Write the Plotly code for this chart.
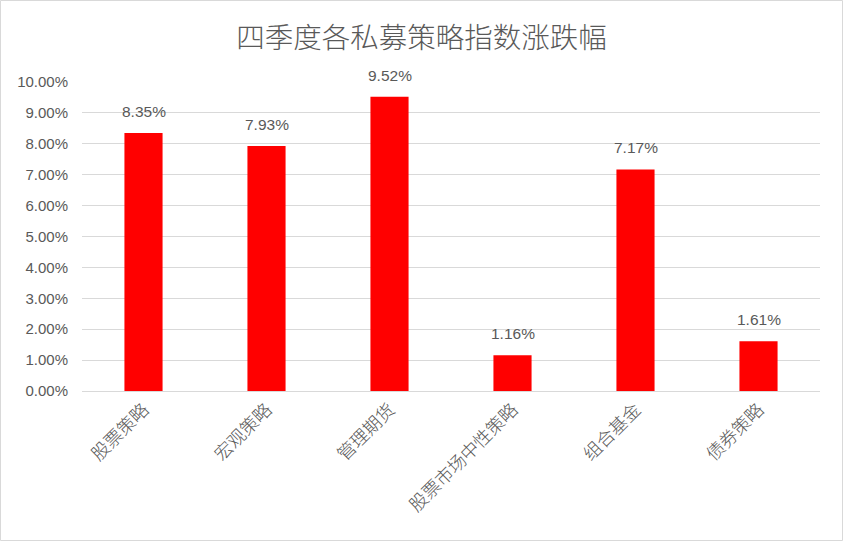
import plotly.graph_objects as go

categories = ["股票策略", "宏观策略", "管理期货", "股票市场中性策略", "组合基金", "债券策略"]
returns_pct = [8.35, 7.93, 9.52, 1.16, 7.17, 1.61]
y_ticks = [0, 1, 2, 3, 4, 5, 6, 7, 8, 9, 10]

W, H = 843, 541
L, R, T, B = 82, 23, 82, 150
pw, ph = W - L - R, H - T - B

font_cjk = "Noto Sans CJK SC, Microsoft YaHei, sans-serif"
font_num = "Liberation Sans, Arial, sans-serif"
grey = "#595959"

fig = go.Figure(
    go.Bar(
        x=categories,
        y=returns_pct,
        marker=dict(color="#ff0000", line=dict(width=0)),
        hoverinfo="skip",
    )
)

# value labels above each bar
for c, v in zip(categories, returns_pct):
    fig.add_annotation(
        x=c, y=v, text=f"{v:.2f}%", showarrow=False,
        yanchor="bottom", yshift=11,
        font=dict(family=font_num, size=15.5, color=grey),
    )

# outer chart border
fig.add_shape(
    type="rect", xref="paper", yref="paper",
    x0=-(L - 0.5) / pw, x1=1 + (R - 0.5) / pw,
    y0=-(B - 0.5) / ph, y1=1 + (T - 0.5) / ph,
    line=dict(color="#d9d9d9", width=1), fillcolor="rgba(0,0,0,0)",
)

fig.update_layout(
    width=W, height=H,
    margin=dict(l=L, r=R, t=T, b=B),
    paper_bgcolor="white", plot_bgcolor="white",
    bargap=0.69,
    showlegend=False,
    title=dict(
        text="四季度各私募策略指数涨跌幅",
        x=0.5, xanchor="center", y=1 - 38 / H, yanchor="middle",
        font=dict(family=font_cjk, size=28.5, color=grey, weight=300),
    ),
    xaxis=dict(
        tickangle=-45,
        tickfont=dict(family=font_cjk, size=18, color=grey, weight=300),
        showline=True, linecolor="#d9d9d9", linewidth=1,
        ticks="", showgrid=False,
    ),
    yaxis=dict(
        range=[0, 10],
        tickvals=y_ticks,
        ticktext=[f"{t:.2f}%" for t in y_ticks],
        tickfont=dict(family=font_num, size=15, color=grey),
        showgrid=True, gridcolor="#d9d9d9", gridwidth=1,
        zeroline=False, showline=False, ticks="",
        ticklabelstandoff=13,
    ),
)

fig.write_html("out.html")
